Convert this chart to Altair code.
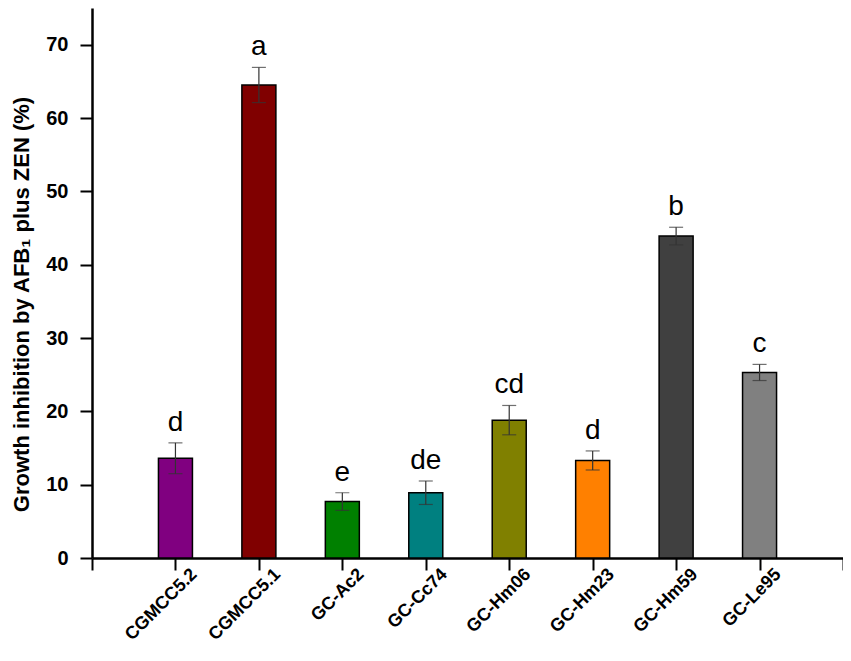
import json
import altair as alt
import pandas as pd

strains = ["CGMCC5.2", "CGMCC5.1", "GC-Ac2", "GC-Cc74", "GC-Hm06", "GC-Hm23", "GC-Hm59", "GC-Le95"]
means = [13.6, 64.5, 7.7, 8.9, 18.8, 13.3, 43.9, 25.3]
sds = [2.1, 2.4, 1.2, 1.6, 2.0, 1.3, 1.2, 1.1]
letters = ["d", "a", "e", "de", "cd", "d", "b", "c"]
colors = ["#800080", "#800000", "#008000", "#008080", "#808000", "#FF8000", "#404040", "#808080"]

df = pd.DataFrame({
    "pos": list(range(1, len(strains) + 1)),
    "strain": strains,
    "mean": means,
    "sd": sds,
    "letter": letters,
    "color": colors,
})
df["lo"] = df["mean"] - df["sd"]
df["hi"] = df["mean"] + df["sd"]

FONT = "Liberation Sans"
names_js = json.dumps(strains)

x_scale = alt.Scale(domain=[0, 9], nice=False, zero=False, padding=0)
y_scale = alt.Scale(domain=[0, 75], nice=False, padding=0)

x_axis = alt.Axis(
    values=list(range(0, 10)),
    labelExpr=f"(datum.value >= 1 && datum.value <= 8) ? {names_js}[datum.value - 1] : ''",
    labelAngle=-45,
    labelAlign="right",
    labelBaseline="top",
    labelFont=FONT,
    labelFontSize=18,
    labelFontWeight="bold",
    labelColor="black",
    labelPadding=-5,
    labelOffset=12,
    tickSize=12,
    tickWidth=2,
    tickColor="black",
    domainColor="black",
    domainWidth=2.5,
    grid=False,
    title=None,
)

y_axis = alt.Axis(
    values=list(range(0, 75, 5)),
    labelExpr="datum.value % 10 === 0 ? datum.label : ''",
    tickSize={"condition": {"test": "datum.value % 10 === 0", "value": 12}, "value": 6},
    tickWidth=2,
    tickColor="black",
    domainColor="black",
    domainWidth=2.5,
    labelFont=FONT,
    labelFontSize=20,
    labelFontWeight="bold",
    labelColor="black",
    labelPadding=12,
    grid=False,
    title="Growth inhibition by AFB\u2081 plus ZEN (%)",
    titleFont=FONT,
    titleFontSize=22,
    titleFontWeight="bold",
    titleColor="black",
    titleBaseline="bottom",
    titleX=-59,
    titleY=296,
)

base = alt.Chart(df)

bars = base.mark_bar(size=34, stroke="black", strokeWidth=1.5).encode(
    x=alt.X("pos:Q", scale=x_scale, axis=x_axis),
    y=alt.Y("mean:Q", scale=y_scale, axis=y_axis),
    color=alt.Color("color:N", scale=None),
)

err = base.mark_rule(color="#333333", strokeWidth=1.2).encode(
    x="pos:Q",
    y="lo:Q",
    y2="hi:Q",
)

cap_hi = base.mark_tick(orient="horizontal", size=14, thickness=1.2, color="#333333").encode(
    x="pos:Q", y="hi:Q"
)
cap_lo = base.mark_tick(orient="horizontal", size=14, thickness=1.2, color="#333333").encode(
    x="pos:Q", y="lo:Q"
)

text = base.mark_text(font=FONT, fontSize=28, color="black", baseline="alphabetic", dy=-12).encode(
    x="pos:Q", y="hi:Q", text="letter:N"
)

chart = (
    alt.layer(bars, err, cap_hi, cap_lo, text)
    .properties(
        width=751,
        height=550,
        background="white",
        autosize=alt.AutoSizeParams(type="none"),
        padding={"left": 84, "top": 0, "right": 0, "bottom": 95},
    )
    .configure_view(stroke=None, strokeWidth=0)
    .configure_axis(grid=False)
)

chart.save("out.html", embed_options={"renderer": "svg", "actions": False})
